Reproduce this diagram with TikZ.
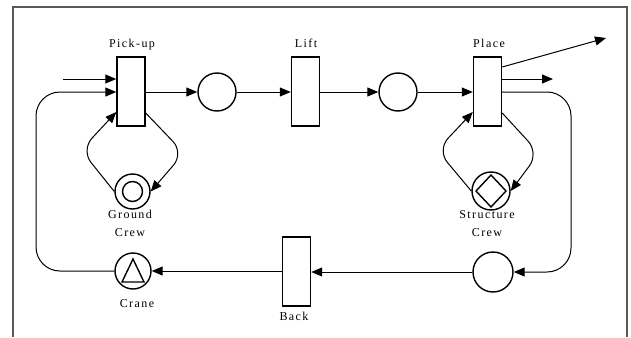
\documentclass[tikz,border=0pt]{standalone}
\usepackage{fontspec}
\setmainfont{Liberation Serif}[LetterSpace=12]
\usetikzlibrary{arrows.meta}
\begin{document}
\begin{tikzpicture}[x=1pt,y=-1pt,
  trans/.style={draw, line width=1.4pt, minimum width=28pt, minimum height=69pt, inner sep=0pt},
  pl/.style={draw, circle, line width=1.4pt, inner sep=0pt},
  conn/.style={line width=1pt, -{Triangle[length=11pt,width=9pt]}},
  lbl/.style={font=\fontsize{12}{14}\selectfont, anchor=base, inner sep=0pt},
  frame/.style={draw=black!65, line width=1.8pt}]
\useasboundingbox (0,0) rectangle (631,337);
\draw[frame] (13,337) -- (13,7) -- (627,7) -- (627,337);
% transitions
\node[trans] (pickup) at (131,91.5) {};
\node[trans] (lift) at (305.5,91.5) {};
\node[trans] (placet) at (487.5,91.5) {};
\node[trans] (back) at (296.5,271.5) {};
% places
\node[pl, minimum size=38pt] (p1) at (217,92) {};
\node[pl, minimum size=38pt] (p2) at (398,92) {};
\node[pl, minimum size=40pt] (p3) at (493,272) {};
\node[pl, minimum size=36pt] (crane) at (133,271) {};
\draw[line width=1.4pt] (crane.center) +(0,-12) -- +(11,11) -- +(-11,11) -- cycle;
\node[pl, minimum size=35pt] (gc) at (132.5,191.5) {};
\draw[line width=1.4pt] (gc.center) circle (10pt);
\node[pl, minimum size=38pt] (sc) at (491,191) {};
\draw[line width=1.4pt] (sc.center) +(0,-16) -- +(15,0) -- +(0,16) -- +(-15,0) -- cycle;
% labels
\node[lbl] (lpick) at (132,48) {Pick-up};
\node[lbl] (llift) at (306,48) {Lift};
\node[lbl] (lplace) at (489,48) {Place};
\node[lbl] (lgc1) at (130,218) {Ground};
\node[lbl] (lgc2) at (130,236) {Crew};
\node[lbl] (lsc1) at (487,218) {Structure};
\node[lbl] (lsc2) at (487,236) {Crew};
\node[lbl] (lcrane) at (137,307) {Crane};
\node[lbl] (lback) at (294,320.5) {Back};
% connectors
\coordinate (in1) at (63,79);
\draw[conn] (in1) -- (in1 -| pickup.west);
\coordinate (lc1) at (36,271);
\coordinate (lc2) at (36,92);
\draw[conn, rounded corners=24pt] (crane.west) -- (lc1) -- (lc2) -- (lc2 -| pickup.west);
\draw[conn] (pickup.east |- p1) -- (p1);
\draw[conn] (p1) -- (p1 -| lift.west);
\draw[conn] (lift.east |- p2) -- (p2);
\draw[conn] (p2) -- (p2 -| placet.west);
\coordinate (o1) at (606,38);
\draw[conn] ([yshift=24.5pt]placet.east) -- (o1);
\coordinate (o2) at (553,79);
\draw[conn] (o2 -| placet.east) -- (o2);
\coordinate (rc1) at (571,92);
\coordinate (rc2) at (571,272);
\draw[conn, rounded corners=24pt] (rc1 -| placet.east) -- (rc1) -- (rc2) -- (p3);
\draw[conn] (p3) -- (p3 -| back.east);
\draw[conn] (back.west |- crane) -- (crane);
% self loops
\coordinate (gr) at (184,153);
\coordinate (gl) at (81,150);
\draw[conn, rounded corners=16pt] ([yshift=-21.5pt]pickup.east) -- (gr) -- (gc.east);
\draw[conn, rounded corners=16pt] (gc.west) -- (gl) -- ([yshift=-20.5pt]pickup.west);
\coordinate (sr) at (539,153);
\coordinate (sl) at (437,150);
\draw[conn, rounded corners=16pt] ([yshift=-21.5pt]placet.east) -- (sr) -- (sc.east);
\draw[conn, rounded corners=16pt] (sc.west) -- (sl) -- ([yshift=-20.5pt]placet.west);
\end{tikzpicture}
\end{document}
